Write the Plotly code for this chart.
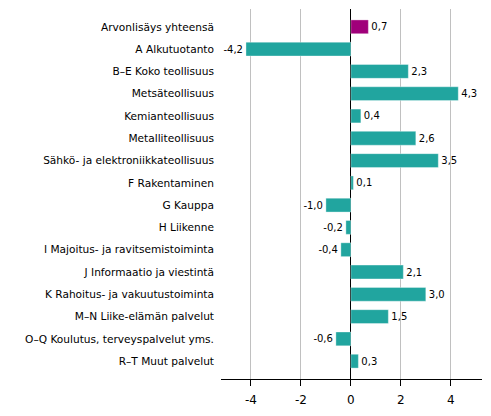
import plotly.graph_objects as go

toimialat = ['Arvonlisäys yhteensä', 'A Alkutuotanto', 'B–E Koko teollisuus', 'Metsäteollisuus',
             'Kemianteollisuus', 'Metalliteollisuus', 'Sähkö- ja elektroniikkateollisuus',
             'F Rakentaminen', 'G Kauppa', 'H Liikenne', 'I Majoitus- ja ravitsemistoiminta',
             'J Informaatio ja viestintä', 'K Rahoitus- ja vakuutustoiminta',
             'M–N Liike-elämän palvelut', 'O–Q Koulutus, terveyspalvelut yms.', 'R–T Muut palvelut']
muutos = [0.7, -4.2, 2.3, 4.3, 0.4, 2.6, 3.5, 0.1, -1.0, -0.2, -0.4, 2.1, 3.0, 1.5, -0.6, 0.3]
tick_arvot = [-4, -2, 0, 2, 4]

varit = ['#a0007a'] + ['#21a59f'] * (len(muutos) - 1)
tekstit = [f'{v:.1f}'.replace('.', ',') for v in muutos]

fig = go.Figure(go.Bar(
    x=muutos, y=toimialat, orientation='h',
    marker=dict(color=varit, line=dict(color='rgba(255,255,255,0.35)', width=1)),
    text=tekstit, textposition='outside', cliponaxis=False,
    textfont=dict(size=10, color='black'),
))

# sivun body-marginaali (8px) otetaan huomioon koossa
fig.update_layout(
    width=475, height=400,
    margin=dict(l=213, r=1, t=1, b=29, autoexpand=False),
    plot_bgcolor='white', paper_bgcolor='white',
    font=dict(family='DejaVu Sans', size=10.6, color='black'),
    bargap=0.38, showlegend=False,
)
fig.update_yaxes(range=[len(toimialat) - 0.2, -0.8], showgrid=False, ticks='', ticklabelstandoff=6)
fig.update_xaxes(range=[-5.2, 5.25], tickvals=tick_arvot, ticktext=[str(t) for t in tick_arvot],
                 showgrid=True, gridcolor='#c0c0c0', gridwidth=1,
                 zeroline=True, zerolinecolor='black', zerolinewidth=1,
                 showline=True, linecolor='black', ticks='outside', ticklen=6, tickcolor='black',
                 ticklabelstandoff=4, tickfont=dict(size=12))

fig.write_html('out.html')
